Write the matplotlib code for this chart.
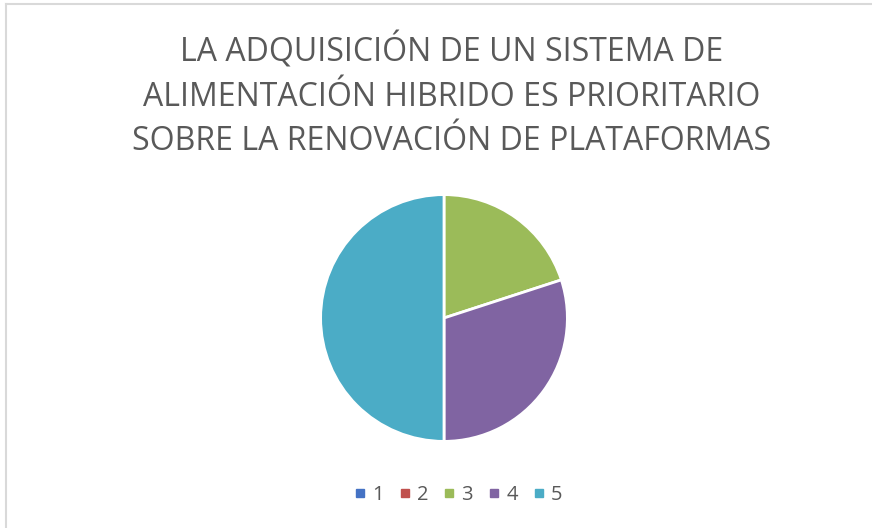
import matplotlib
matplotlib.use("Agg")
import matplotlib.pyplot as plt
from matplotlib.lines import Line2D

categories = ["1", "2", "3", "4", "5"]
values = [0, 0, 2, 3, 5]
colors = ["#4472C4", "#C0504D", "#9BBB59", "#8064A2", "#4BACC6"]
title = "LA ADQUISICIÓN DE UN SISTEMA DE\nALIMENTACIÓN HIBRIDO ES PRIORITARIO\nSOBRE LA RENOVACIÓN DE PLATAFORMAS"

W, H = 872, 528
fig = plt.figure(figsize=(W / 100, H / 100), dpi=100)
fig.patch.set_facecolor("white")

# border lines (top and left visible)
fig.add_artist(Line2D([6 / W, 1], [1 - 4 / H, 1 - 4 / H], color="#D9D9D9", lw=1.5, transform=fig.transFigure))
fig.add_artist(Line2D([6 / W, 6 / W], [0, 1 - 4 / H], color="#D9D9D9", lw=1.5, transform=fig.transFigure))

cx, cy, r = 444, 318, 124
ax = fig.add_axes([(cx - r) / W, (H - cy - r) / H, 2 * r / W, 2 * r / H])
ax.pie(values, colors=colors, startangle=90, counterclock=False,
       wedgeprops=dict(edgecolor="white", linewidth=2))
ax.set_xlim(-1.005, 1.005)
ax.set_ylim(-1.005, 1.005)
ax.set_aspect("equal")
ax.axis("off")

fig.text(452 / W, 1 - 95 / H, title, ha="center", va="center", fontsize=23,
         family="Open Sans", color="#595959", linespacing=1.45)

handles = [Line2D([], [], marker="s", linestyle="none", markersize=5.5,
                  markerfacecolor=c, markeredgecolor=c) for c in colors]
fig.legend(handles, categories, loc="center", bbox_to_anchor=(456 / W, 1 - 495 / H),
           ncol=5, frameon=False, handletextpad=0.1, columnspacing=0.55,
           handlelength=1.0, labelcolor="#595959", prop=dict(family="Open Sans", size=14.5))

fig.savefig("out.png", dpi=100, facecolor="white")
